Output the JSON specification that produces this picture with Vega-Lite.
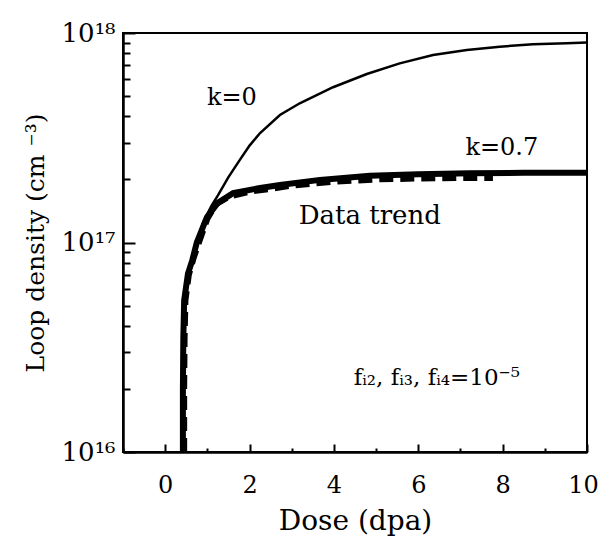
{
  "$schema": "https://vega.github.io/schema/vega-lite/v6.json",
  "width": 464,
  "height": 419,
  "autosize": {"type": "none"},
  "padding": {"left": 123, "top": 33, "right": 13, "bottom": 98},
  "background": "white",
  "config": {
    "view": {"stroke": "black", "strokeWidth": 2},
    "font": "DejaVu Serif",
    "axis": {"grid": false, "labelColor": "black", "titleColor": "black", "tickColor": "black", "domainColor": "black", "labelFont": "DejaVu Serif", "titleFont": "DejaVu Serif", "titleFontWeight": "normal"}
  },
  "datasets": {
    "k0": [
      {"x": 0.42, "y": 1e16}, {"x": 0.42, "y": 2e16}, {"x": 0.43, "y": 3.5e16}, {"x": 0.46, "y": 5.5e16},
      {"x": 0.55, "y": 7.2e16}, {"x": 0.7, "y": 9.5e16}, {"x": 0.9, "y": 1.25e17}, {"x": 1.1, "y": 1.5e17},
      {"x": 1.25, "y": 1.68e17}, {"x": 1.5, "y": 2.05e17}, {"x": 1.77, "y": 2.48e17}, {"x": 2.0, "y": 2.9e17},
      {"x": 2.25, "y": 3.33e17}, {"x": 2.72, "y": 4.06e17}, {"x": 3.19, "y": 4.62e17}, {"x": 3.98, "y": 5.51e17},
      {"x": 4.78, "y": 6.37e17}, {"x": 5.56, "y": 7.16e17}, {"x": 6.35, "y": 7.85e17}, {"x": 7.15, "y": 8.3e17},
      {"x": 7.93, "y": 8.6e17}, {"x": 8.72, "y": 8.84e17}, {"x": 9.52, "y": 8.93e17}, {"x": 10, "y": 9.0e17}
    ],
    "k07": [
      {"x": 0.42, "y": 1e16}, {"x": 0.42, "y": 2e16}, {"x": 0.43, "y": 3.5e16}, {"x": 0.45, "y": 5.3e16},
      {"x": 0.54, "y": 7.1e16}, {"x": 0.64, "y": 8.2e16}, {"x": 0.75, "y": 1e17}, {"x": 0.99, "y": 1.32e17},
      {"x": 1.25, "y": 1.55e17}, {"x": 1.61, "y": 1.72e17}, {"x": 2.25, "y": 1.82e17}, {"x": 2.72, "y": 1.88e17},
      {"x": 3.67, "y": 1.99e17}, {"x": 4.85, "y": 2.08e17}, {"x": 6.0, "y": 2.12e17}, {"x": 7.22, "y": 2.14e17},
      {"x": 8.5, "y": 2.15e17}, {"x": 10, "y": 2.15e17}
    ],
    "trend": [
      {"x": 0.45, "y": 1e16}, {"x": 0.45, "y": 2e16}, {"x": 0.46, "y": 3.5e16}, {"x": 0.48, "y": 5.3e16},
      {"x": 0.56, "y": 7e16}, {"x": 0.68, "y": 8.5e16}, {"x": 0.8, "y": 1e17}, {"x": 1.0, "y": 1.3e17},
      {"x": 1.2, "y": 1.52e17}, {"x": 1.5, "y": 1.65e17}, {"x": 2.0, "y": 1.75e17}, {"x": 2.5, "y": 1.8e17},
      {"x": 3.0, "y": 1.87e17}, {"x": 4.0, "y": 1.95e17}, {"x": 5.0, "y": 2.0e17}, {"x": 6.0, "y": 2.02e17},
      {"x": 7.0, "y": 2.03e17}, {"x": 7.77, "y": 2.03e17}
    ],
    "labels": [
      {"x": 1.58, "y": 4.9e17, "label": "k=0", "group": "k"},
      {"x": 7.98, "y": 2.83e17, "label": "k=0.7", "group": "k"},
      {"x": 4.85, "y": 1.34e17, "label": "Data trend", "group": "trend"},
      {"x": 6.44, "y": 2.25e16, "label": "fᵢ₂, fᵢ₃, fᵢ₄=10⁻⁵", "group": "f"}
    ]
  },
  "layer": [
    {
      "data": {"name": "trend"},
      "mark": {"type": "line", "color": "black", "strokeWidth": 6, "strokeDash": [14, 7], "clip": true},
      "encoding": {
        "x": {"field": "x", "type": "quantitative", "scale": {"domain": [-1, 10], "nice": false, "zero": false},
          "axis": {"orient": "bottom", "values": [-1, -0.5, 0, 0.5, 1, 1.5, 2, 2.5, 3, 3.5, 4, 4.5, 5, 5.5, 6, 6.5, 7, 7.5, 8, 8.5, 9, 9.5, 10],
            "labelExpr": "(datum.value == 0 || datum.value == 2 || datum.value == 4 || datum.value == 6 || datum.value == 8 || datum.value == 10) ? format(datum.value, 'd') : ''", "labelOverlap": false,
            "labelOffset": {"condition": {"test": "datum.value == 10", "value": -4}, "value": 0},
            "ticks": true, "tickWidth": 2,
            "tickSize": {"condition": {"test": "datum.value == 0 || datum.value == 2 || datum.value == 4 || datum.value == 6 || datum.value == 8 || datum.value == 10", "value": -8}, "value": -4},
            "domain": true, "domainWidth": 2.5,
            "labelFontSize": 24, "labelPadding": 29, "labelFlush": false, "title": "Dose (dpa)", "titleFontSize": 28, "titlePadding": 6}},
        "y": {"field": "y", "type": "quantitative", "scale": {"type": "log", "domain": [1e16, 1e18], "nice": false},
          "axis": {"orient": "left", "values": [1e16, 2e16, 3e16, 4e16, 5e16, 6e16, 7e16, 8e16, 9e16, 1e17, 2e17, 3e17, 4e17, 5e17, 6e17, 7e17, 8e17, 9e17, 1e18],
            "labelOverlap": false,
            "ticks": true, "tickWidth": 2,
            "tickSize": {"condition": {"test": "datum.value == 1e16 || datum.value == 1e17 || datum.value == 1e18", "value": -12}, "value": -7},
            "domain": true, "domainWidth": 2.5,
            "labelExpr": "datum.value == 1e18 ? '10¹⁸' : (datum.value == 1e17 ? '10¹⁷' : (datum.value == 1e16 ? '10¹⁶' : ''))",
            "labelFontSize": 26, "labelPadding": 20, "labelFlush": false, "title": "Loop density (cm ⁻³)", "titleFontSize": 25, "titlePadding": 13}}
      }
    },
    {
      "data": {"name": "k07"},
      "mark": {"type": "line", "color": "black", "strokeWidth": 6, "clip": true},
      "encoding": {
        "x": {"field": "x", "type": "quantitative"},
        "y": {"field": "y", "type": "quantitative"}
      }
    },
    {
      "data": {"name": "k0"},
      "mark": {"type": "line", "color": "black", "strokeWidth": 2.5, "clip": true},
      "encoding": {
        "x": {"field": "x", "type": "quantitative"},
        "y": {"field": "y", "type": "quantitative"}
      }
    },
    {
      "data": {"name": "labels"},
      "transform": [{"filter": "datum.group == 'k'"}],
      "mark": {"type": "text", "color": "black", "fontSize": 24, "font": "DejaVu Serif"},
      "encoding": {
        "x": {"field": "x", "type": "quantitative"},
        "y": {"field": "y", "type": "quantitative"},
        "text": {"field": "label"}
      }
    },
    {
      "data": {"name": "labels"},
      "transform": [{"filter": "datum.group == 'trend'"}],
      "mark": {"type": "text", "color": "black", "fontSize": 26, "font": "DejaVu Serif"},
      "encoding": {
        "x": {"field": "x", "type": "quantitative"},
        "y": {"field": "y", "type": "quantitative"},
        "text": {"field": "label"}
      }
    },
    {
      "data": {"name": "labels"},
      "transform": [{"filter": "datum.group == 'f'"}],
      "mark": {"type": "text", "color": "black", "fontSize": 23, "font": "DejaVu Serif"},
      "encoding": {
        "x": {"field": "x", "type": "quantitative"},
        "y": {"field": "y", "type": "quantitative"},
        "text": {"field": "label"}
      }
    }
  ]
}
